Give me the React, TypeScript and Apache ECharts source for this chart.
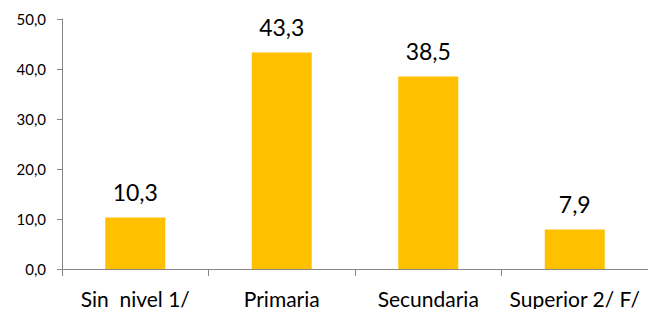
import React, { useEffect, useRef } from "react";
import * as echarts from "echarts";

const categories = ["Sin  nivel 1/", "Primaria", "Secundaria", "Superior 2/ F/"];
const values = [10.3, 43.3, 38.5, 7.9];
const yMin = 0;
const yMax = 50;
const yStep = 10;

const fmt = (v: number) => v.toFixed(1).replace(".", ",");

export default function App() {
  const ref = useRef<HTMLDivElement>(null);
  useEffect(() => {
    if (!ref.current) return;
    const chart = echarts.init(ref.current, null, { renderer: "svg" });
    chart.setOption({
      animation: false,
      textStyle: { fontFamily: "Lato" },
      grid: { left: 62, right: 0, top: 19, bottom: 40, containLabel: false },
      xAxis: {
        type: "category",
        data: categories,
        boundaryGap: true,
        axisLine: { show: true, lineStyle: { color: "#868686", width: 1 } },
        axisTick: { show: true, length: 7, lineStyle: { color: "#868686" }, alignWithLabel: false },
        axisLabel: { color: "#000", fontSize: 21, fontFamily: "Lato", margin: 19, interval: 0 },
      },
      yAxis: {
        type: "value",
        min: yMin,
        max: yMax,
        interval: yStep,
        splitLine: { show: false },
        axisLine: { show: true, lineStyle: { color: "#868686", width: 1 } },
        axisTick: { show: true, length: 5, lineStyle: { color: "#868686" } },
        axisLabel: { color: "#000", fontSize: 15, fontFamily: "Lato", margin: 16, formatter: (v: number) => fmt(v) },
      },
      series: [
        {
          type: "bar",
          data: values,
          barWidth: 60,
          itemStyle: { color: "#FFC000" },
          label: {
            show: true,
            position: "top",
            distance: 14,
            color: "#000",
            fontSize: 23,
            fontFamily: "Lato",
            formatter: (p: any) => fmt(p.value),
          },
        },
      ],
    });
    return () => chart.dispose();
  }, []);
  return <div ref={ref} style={{ width: 648, height: 309, position: "absolute", left: 0, top: 0, background: "#fff" }} />;
}
